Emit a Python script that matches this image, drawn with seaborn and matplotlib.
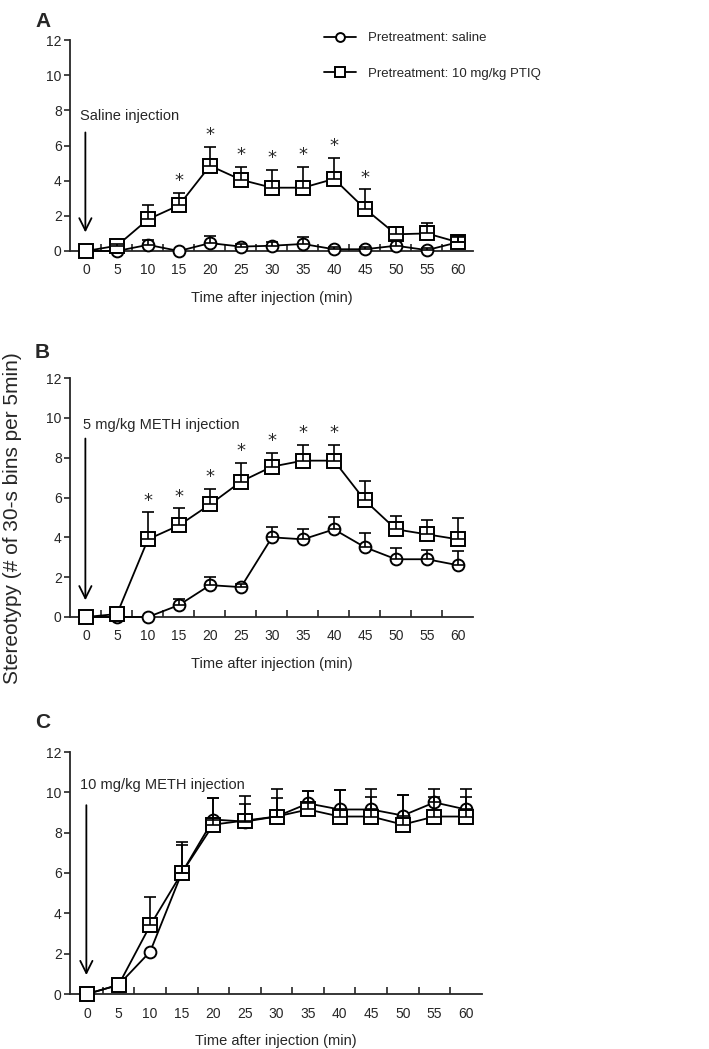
import numpy as np
import pandas as pd
import matplotlib
matplotlib.use("Agg")
import matplotlib.pyplot as plt
import seaborn as sns

# %% data
times = [0, 5, 10, 15, 20, 25, 30, 35, 40, 45, 50, 55, 60]

# A: saline injection
a_saline_mean = [0, 0, 0.35, 0, 0.45, 0.25, 0.3, 0.4, 0.1, 0.1, 0.3, 0.05, 0.5]
a_saline_err = [0, 0, 0.25, 0, 0.4, 0.15, 0.2, 0.4, 0.1, 0.1, 0.35, 0.1, 0.3]
a_ptiq_mean = [0, 0.3, 1.8, 2.6, 4.85, 4.05, 3.6, 3.6, 4.1, 2.4, 0.95, 1.0, 0.5]
a_ptiq_err = [0, 0.1, 0.8, 0.7, 1.05, 0.75, 1.0, 1.2, 1.2, 1.1, 0.4, 0.6, 0.35]
a_stars = [15, 20, 25, 30, 35, 40, 45]

# B: 5 mg/kg METH
b_saline_mean = [0, 0, 0, 0.6, 1.6, 1.5, 4.0, 3.9, 4.4, 3.5, 2.9, 2.9, 2.6]
b_saline_err = [0, 0, 0, 0.3, 0.4, 0.15, 0.5, 0.5, 0.6, 0.7, 0.55, 0.45, 0.7]
b_ptiq_mean = [0, 0.15, 3.9, 4.6, 5.65, 6.8, 7.55, 7.85, 7.85, 5.85, 4.4, 4.15, 3.9]
b_ptiq_err = [0, 0, 1.35, 0.85, 0.8, 0.95, 0.7, 0.8, 0.8, 1.0, 0.65, 0.7, 1.05]
b_stars = [10, 15, 20, 25, 30, 35, 40]

# C: 10 mg/kg METH
c_saline_mean = [0, 0.45, 2.1, 6.0, 8.65, 8.55, 8.8, 9.45, 9.15, 9.15, 8.85, 9.5, 9.15]
c_saline_err = [0, 0, 0, 1.55, 1.05, 1.25, 1.35, 0.6, 0.95, 1.0, 1.0, 0.65, 1.0]
c_ptiq_mean = [0, 0.45, 3.4, 6.0, 8.4, 8.6, 8.8, 9.15, 8.8, 8.8, 8.4, 8.8, 8.8]
c_ptiq_err = [0, 0, 1.4, 1.4, 1.3, 0.8, 0.9, 0.9, 1.3, 0.95, 1.45, 0.97, 0.97]
c_stars = []

labels = ["Pretreatment: saline", "Pretreatment: 10 mg/kg PTIQ"]

# %% style
sns.set_style("ticks")
plt.rcParams['font.family'] = ['Liberation Sans', 'DejaVu Sans']

W, H = 709, 1049
fig = plt.figure(figsize=(W / 100, H / 100), dpi=100)


def px_rect(left, right, top, bottom):
    return [left / W, 1 - bottom / H, (right - left) / W, (bottom - top) / H]


def draw_panel(rect, xlim, sal_m, sal_e, pt_m, pt_e, stars, note, note_xy, arrow_y):
    ax = fig.add_axes(rect)
    t = np.array(times)
    for m, e in [(sal_m, sal_e), (pt_m, pt_e)]:
        m, e = np.array(m), np.array(e)
        keep = e > 0
        ax.errorbar(t[keep], m[keep], yerr=[np.zeros(keep.sum()), e[keep]],
                    fmt='none', ecolor='black', elinewidth=1.2, capsize=4,
                    capthick=1.2, clip_on=False, zorder=5)
    sns.lineplot(x=times, y=sal_m, ax=ax, color='black', marker='o', ms=8.5,
                 mfc='white', mec='black', mew=1.4, lw=1.3, clip_on=False,
                 zorder=3, label=labels[0])
    sns.lineplot(x=times, y=pt_m, ax=ax, color='black', marker='s', ms=10,
                 mfc='white', mec='black', mew=1.4, lw=1.3, clip_on=False,
                 zorder=4, label=labels[1])

    for s in stars:
        i = times.index(s)
        ax.annotate('*', xy=(s, pt_m[i] + pt_e[i]), xytext=(0, 2),
                    textcoords='offset points', ha='center', va='bottom',
                    fontsize=13, family='DejaVu Sans')

    ax.annotate('', xy=(-0.1, arrow_y[1]), xytext=(-0.1, arrow_y[0]),
                arrowprops=dict(arrowstyle='->', lw=1.3, color='black',
                                mutation_scale=22))
    ax.text(note_xy[0], note_xy[1], note, ha='left', va='center', fontsize=10.5)

    ax.set_xlim(*xlim)
    ax.set_ylim(0, 12)
    ax.set_yticks(range(0, 13, 2))
    ax.set_xticks(times)
    ax.set_xticks(np.arange(2.5, 60, 5), minor=True)
    ax.tick_params(axis='x', which='major', length=0, pad=9, labelsize=10)
    ax.tick_params(axis='x', which='minor', direction='in', length=5, width=1.2)
    ax.tick_params(axis='y', direction='out', length=4, width=1.2, pad=2, labelsize=10)
    ax.set_xlabel("Time after injection (min)", fontsize=10.5, labelpad=10)
    ax.set_ylabel("")
    sns.despine(ax=ax)
    ax.spines['left'].set_linewidth(1.3)
    ax.spines['bottom'].set_linewidth(1.3)
    ax.get_legend().remove()
    return ax


ax_a = draw_panel(px_rect(70, 473, 40, 251), (-2.58, 62.42),
                  a_saline_mean, a_saline_err, a_ptiq_mean, a_ptiq_err, a_stars,
                  "Saline injection", (-1.0, 7.7), (6.9, 0.9))
ax_b = draw_panel(px_rect(70, 473, 378, 617), (-2.58, 62.42),
                  b_saline_mean, b_saline_err, b_ptiq_mean, b_ptiq_err, b_stars,
                  "5 mg/kg METH injection", (-0.5, 9.65), (9.1, 0.7))
ax_c = draw_panel(px_rect(70, 482, 752, 994), (-2.69, 62.53),
                  c_saline_mean, c_saline_err, c_ptiq_mean, c_ptiq_err, c_stars,
                  "10 mg/kg METH injection", (-1.1, 10.35), (9.5, 0.8))

# legend only on panel A
handles, _ = ax_a.get_legend_handles_labels()
ax_a.legend(handles, labels, loc='upper left', bbox_to_anchor=(324 / W, 1 - 32 / H),
            bbox_transform=fig.transFigure, frameon=False, fontsize=9.5,
            handlelength=2.4, markerscale=0.75, labelspacing=1.75,
            borderpad=0, borderaxespad=0, handletextpad=0.9)

for letter, y in [("A", 27), ("B", 358), ("C", 728)]:
    fig.text(35 / W, 1 - y / H, letter, fontsize=15, weight='bold',
             ha='left', va='baseline')

fig.text(13 / W, 1 - 518 / H, "Stereotypy (# of 30-s bins per 5min)", rotation=90,
         ha='center', va='center', fontsize=15)

fig.savefig("out.png", dpi=100)
